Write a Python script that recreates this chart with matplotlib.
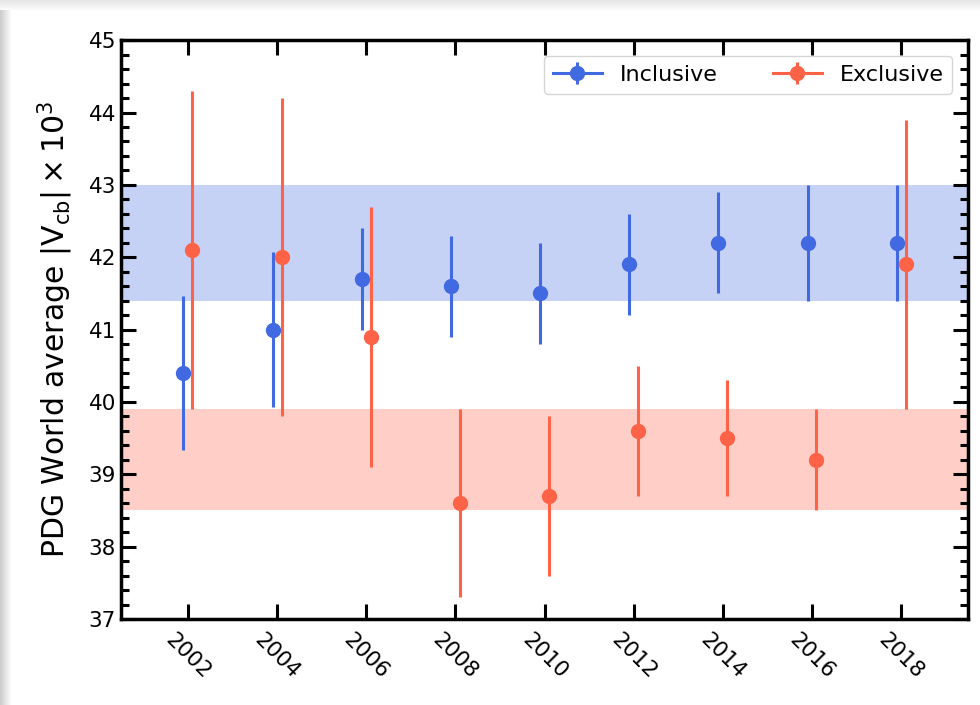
import matplotlib
matplotlib.use('Agg')
import matplotlib.pyplot as plt
from matplotlib.patches import Rectangle
from matplotlib.lines import Line2D
from matplotlib.ticker import MultipleLocator

# PDG world averages of |Vcb| x 10^3
years = [2002, 2004, 2006, 2008, 2010, 2012, 2014, 2016, 2018]

incl_val = [40.4, 41.0, 41.7, 41.6, 41.5, 41.9, 42.2, 42.2, 42.2]
incl_err = [1.06, 1.07, 0.7, 0.7, 0.7, 0.7, 0.7, 0.8, 0.8]

excl_val = [42.1, 42.0, 40.9, 38.6, 38.7, 39.6, 39.5, 39.2, 41.9]
excl_err = [2.2, 2.2, 1.8, 1.3, 1.1, 0.9, 0.8, 0.7, 2.0]

# latest averages shown as bands
incl_band = (42.2, 0.8)
excl_band = (39.2, 0.7)

BLUE = '#4169e1'
RED = '#ff6347'

fig = plt.figure(figsize=(9.8, 7.05), dpi=100)
ax = fig.add_axes([0.1235, 0.122, 0.8643, 0.821])

# screenshot-like shadow on the left and top edges
for i in range(12):
    g = 0.80 + 0.018 * i
    fig.add_artist(Rectangle((i / 980, 0), 1 / 980, 1 - 10 / 705,
                             transform=fig.transFigure, color=(g, g, g), lw=0))
for i in range(10):
    g = 0.90 + 0.009 * i
    fig.add_artist(Rectangle((0, 1 - (i + 1) / 705), 1, 1 / 705,
                             transform=fig.transFigure, color=(g, g, g), lw=0))

ax.axhspan(incl_band[0] - incl_band[1], incl_band[0] + incl_band[1],
           color=BLUE, alpha=0.3, lw=0)
ax.axhspan(excl_band[0] - excl_band[1], excl_band[0] + excl_band[1],
           color=RED, alpha=0.3, lw=0)

x_in = [y - 0.1 for y in years]
x_ex = [y + 0.1 for y in years]
ax.errorbar(x_in, incl_val, yerr=incl_err, fmt='o', color=BLUE, ms=10,
            elinewidth=2.2, capsize=0)
ax.errorbar(x_ex, excl_val, yerr=excl_err, fmt='o', color=RED, ms=10,
            elinewidth=2.2, capsize=0)

ax.set_xlim(2000.5, 2019.5)
ax.set_ylim(37, 45)
ax.set_xticks(years)
ax.set_xticklabels([str(y) for y in years], rotation=-45, ha='center')
ax.yaxis.set_major_locator(MultipleLocator(1))
ax.yaxis.set_minor_locator(MultipleLocator(0.2))

ax.tick_params(axis='both', which='major', direction='in', length=11, width=2.2,
               labelsize=15.5, top=True, right=True)
ax.tick_params(axis='y', which='minor', direction='in', length=6, width=2.2,
               right=True)
ax.tick_params(axis='x', which='major', pad=8)
for s in ax.spines.values():
    s.set_linewidth(2.5)

ax.set_ylabel(r'PDG World average $|\mathrm{V_{cb}}| \times 10^3$', fontsize=21.5,
              labelpad=10)

# legend handles: line + marker + small vertical bar, like errorbar with a line
handles = []
for c in (BLUE, RED):
    h_line = Line2D([], [], color=c, lw=2.2, marker='o', ms=10)
    h_bar = Line2D([], [], color=c, lw=0, marker='|', ms=16, mew=2.2)
    handles.append((h_line, h_bar))
ax.legend(handles, ['Inclusive', 'Exclusive'], loc='upper right', ncol=2,
          fontsize=16, columnspacing=2.5, handlelength=2.2, borderaxespad=0.7)

fig.savefig('out.png', dpi=100)
